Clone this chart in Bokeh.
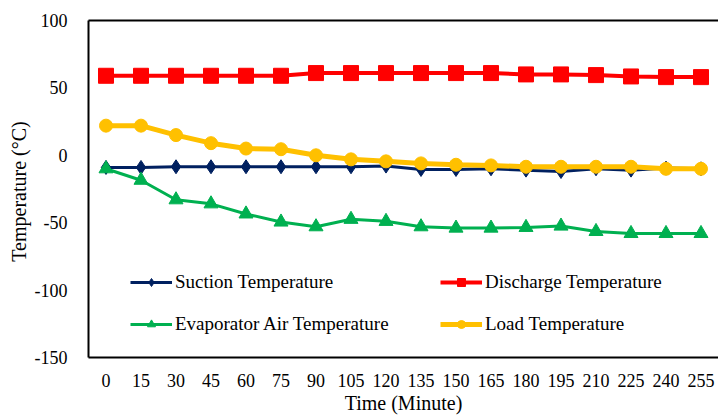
from bokeh.plotting import figure
from bokeh.models import Legend, LegendItem, LinearAxis, FixedTicker, PrintfTickFormatter
from bokeh.embed import file_html
from bokeh.resources import INLINE

time_labels = ["0", "15", "30", "45", "60", "75", "90", "105", "120", "135",
               "150", "165", "180", "195", "210", "225", "240", "255"]
suction = [-9, -9, -8.5, -8.5, -8.5, -8.5, -8.5, -8.5, -8, -10.5, -10.5, -10,
           -11, -12, -10, -11, -9.5, -10]
discharge = [59, 59, 59, 59, 59, 59, 61, 61, 61, 61, 61, 61, 60, 60, 59.5,
             58.5, 58, 58]
evaporator = [-10, -18.5, -33, -36, -43.5, -49.5, -53, -47.5, -49, -53, -54,
              -54, -53.5, -52.5, -56.5, -58, -58, -58]
load = [22, 22, 15, 9, 5, 4.5, 0, -3, -4.5, -6, -7, -7.5, -8.5, -8.5, -8.5,
        -8.5, -10, -10]
y_ticks = [-150, -100, -50, 0, 50, 100]

FONT = "Liberation Serif"

p = figure(x_range=time_labels, y_range=(-150, 100), width=718, height=416,
           output_backend="svg", toolbar_location=None,
           min_border_left=88, min_border_right=0, min_border_top=20,
           min_border_bottom=40)
p.outline_line_color = None
p.xgrid.grid_line_color = None
p.ygrid.grid_line_color = None
p.x_range.range_padding = 0

# Series (Excel draw order)
l1 = p.line(time_labels, suction, line_color="#002060", line_width=3)
s1 = p.scatter(time_labels, suction, marker="diamond", size=14,
               fill_color="#002060", line_color="#002060")
l2 = p.line(time_labels, discharge, line_color="#FF0000", line_width=4)
s2 = p.scatter(time_labels, discharge, marker="square", size=15,
               fill_color="#FF0000", line_color="#FF0000")
l3 = p.line(time_labels, evaporator, line_color="#00B050", line_width=3)
s3 = p.scatter(time_labels, evaporator, marker="triangle", size=14,
               fill_color="#00B050", line_color="#00B050")
l4 = p.line(time_labels, load, line_color="#FFC000", line_width=5)
s4 = p.scatter(time_labels, load, marker="circle", size=13,
               fill_color="#FFC000", line_color="#FFC000")

# Axes
for ax in (p.xaxis[0], p.yaxis[0]):
    ax.axis_line_color = "black"
    ax.axis_line_width = 2
    ax.major_tick_line_color = None
    ax.minor_tick_line_color = None
    ax.major_label_text_font = FONT
    ax.major_label_text_font_size = "18px"
    ax.major_label_text_color = "black"
    ax.axis_label_text_font = FONT
    ax.axis_label_text_font_size = "20px"
    ax.axis_label_text_font_style = "normal"
    ax.axis_label_text_color = "black"

p.yaxis[0].ticker = FixedTicker(ticks=y_ticks)
p.yaxis[0].formatter = PrintfTickFormatter(format="%d")
p.yaxis[0].major_label_standoff = 15
p.yaxis[0].axis_label = "Temperature  (°C)"
p.yaxis[0].axis_label_standoff = 2
p.xaxis[0].major_label_standoff = 10
p.xaxis[0].axis_label = "Time (Minute)"
p.xaxis[0].axis_label_standoff = 2

top = LinearAxis(axis_line_color="black", axis_line_width=2,
                 major_tick_line_color=None, minor_tick_line_color=None,
                 major_label_text_font_size="0px", ticker=FixedTicker(ticks=[]))
p.add_layout(top, "above")

def make_legend(items, loc):
    lg = Legend(items=items, location=loc, orientation="vertical",
                glyph_width=42, glyph_height=20, spacing=20, padding=0,
                margin=0, label_standoff=3, border_line_color=None,
                background_fill_alpha=0, label_text_font=FONT,
                label_text_font_size="19px", label_text_color="black")
    p.add_layout(lg, "center")

make_legend([LegendItem(label="Suction Temperature", renderers=[l1, s1]),
             LegendItem(label="Evaporator Air Temperature", renderers=[l3, s3])],
            (42, 22))
make_legend([LegendItem(label="Discharge Temperature", renderers=[l2, s2]),
             LegendItem(label="Load Temperature", renderers=[l4, s4])],
            (352, 22))

open("out.html", "w").write(file_html(p, INLINE))
